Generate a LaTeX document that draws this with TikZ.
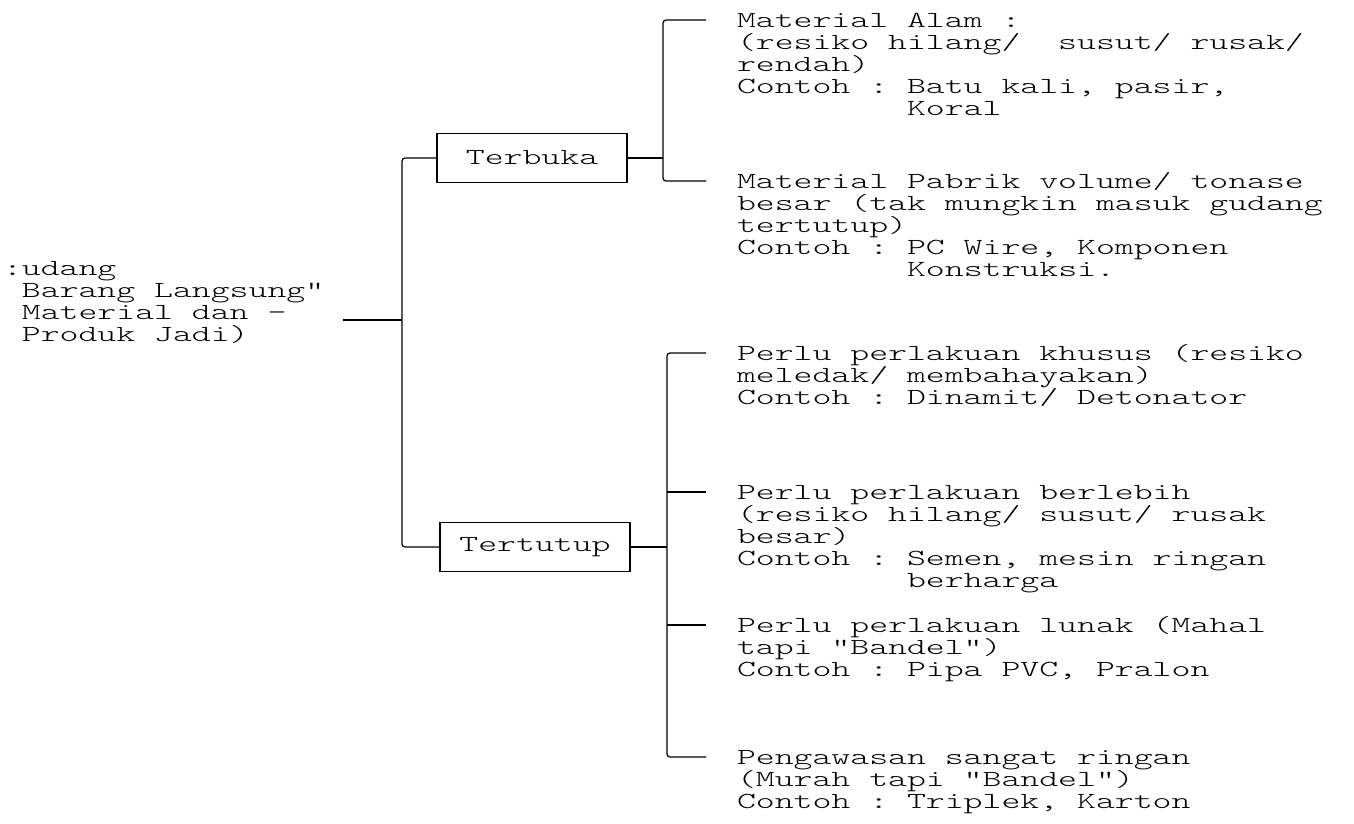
\documentclass[tikz,border=0pt]{standalone}
\usepackage{fontspec}
% wide, light typewriter face
\newfontfamily\tw{lmmonolt10-regular.otf}[FakeStretch=1.565]
\newcommand\st{\rule{0pt}{18pt}}
\begin{document}
\begin{tikzpicture}[x=1pt,y=-1pt,
  every node/.style={inner sep=0pt, outer sep=0pt},
  txt/.style={font={\tw\fontsize{23pt}{22pt}\selectfont\frenchspacing\lineskiplimit=-100pt\lineskip=0pt},
    align=left, anchor=north west, yshift=11pt},
  catbox/.style={draw, line width=1.2pt, minimum width=190pt, minimum height=49pt,
    font={\tw\fontsize{23pt}{22pt}\selectfont}},
  link/.style={line width=1.2pt, rounded corners=3pt}]
\useasboundingbox (0,0) rectangle (1354,823);
\fill[white] (0,0) rectangle (1354,823);

% root label
\node[txt] (root) at (3,268) {\st:udang\\\phantom{:}Barang Langsung"\\\phantom{:}Material dan -\\\phantom{:}Produk Jadi)};

% the two kinds of store
\node[catbox] (terbuka) at (532,158) {Terbuka};
\node[catbox] (tertutup) at (535,547) {Tertutup};

% junctions and branch ends
\coordinate (r0) at (343,320);
\coordinate (j0) at (402,320);
\coordinate (ju) at (663,158);
\coordinate (jl) at (667,547);
\coordinate (a1) at (706,20);
\coordinate (a2) at (706,181);
\coordinate (b1) at (706,353);
\coordinate (b2) at (706,492);
\coordinate (b3) at (706,625);
\coordinate (b4) at (706,757);

% open store items
\node[txt] (ta1) at (737,20) {\st Material Alam :\\(resiko hilang/~ susut/ rusak/\\rendah)\\Contoh : Batu kali, pasir,\\\phantom{Contoh : }Koral};
\node[txt] (ta2) at (737,181) {\st Material Pabrik volume/ tonase\\besar (tak mungkin masuk gudang\\tertutup)\\Contoh : PC Wire, Komponen\\\phantom{Contoh : }Konstruksi.};

% closed store items
\node[txt] (tb1) at (737,353) {\st Perlu perlakuan khusus (resiko\\meledak/ membahayakan)\\Contoh : Dinamit/ Detonator};
\node[txt] (tb2) at (737,492) {\st Perlu perlakuan berlebih\\(resiko hilang/ susut/ rusak\\besar)\\Contoh : Semen, mesin ringan\\\phantom{Contoh : }berharga};
\node[txt] (tb3) at (737,625) {\st Perlu perlakuan lunak (Mahal\\tapi "Bandel")\\Contoh : Pipa PVC, Pralon};
\node[txt] (tb4) at (737,757) {\st Pengawasan sangat ringan\\(Murah tapi "Bandel")\\Contoh : Triplek, Karton};

% connectors
\draw[link] (r0) -- (j0);
\draw[link] (terbuka.west) -- (terbuka.west -| j0) -- (tertutup.west -| j0) -- (tertutup.west);
\draw[link] (terbuka.east) -- (terbuka.east -| ju);
\draw[link] (a1) -- (a1 -| ju) -- (a2 -| ju) -- (a2);
\draw[link] (tertutup.east) -- (tertutup.east -| jl);
\draw[link] (b1) -- (b1 -| jl) -- (b4 -| jl) -- (b4);
\draw[link] (b2 -| jl) -- (b2);
\draw[link] (b3 -| jl) -- (b3);
\end{tikzpicture}
\end{document}
